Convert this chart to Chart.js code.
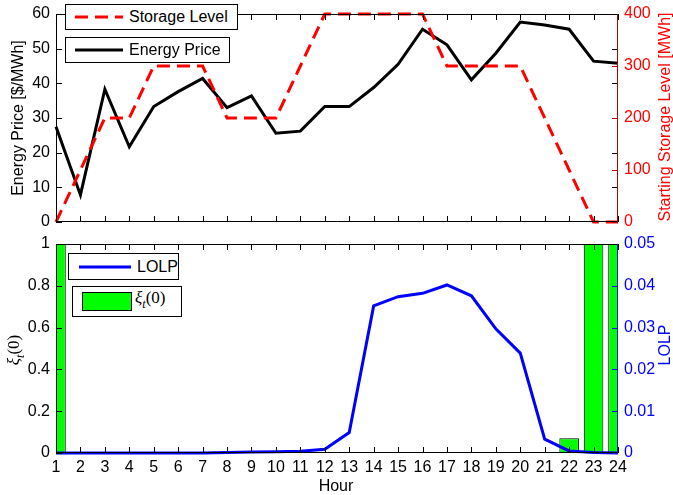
<!DOCTYPE html>
<html><head><meta charset="utf-8">
<script src="https://cdn.jsdelivr.net/npm/chart.js@4.4.1/dist/chart.umd.min.js"></script>
<style>
html,body{margin:0;padding:0;background:#fff;}
#wrap{position:relative;width:673px;height:495px;overflow:hidden;font-family:"Liberation Sans",Arial,sans-serif;color:#000;}
canvas{position:absolute;left:0;}
.rot{position:absolute;white-space:nowrap;font-size:16px;line-height:18px;transform:translate(-50%,-50%) rotate(-90deg);}
.hz{position:absolute;white-space:nowrap;font-size:16px;line-height:18px;transform:translate(-50%,-50%);}
.leg{position:absolute;border:1px solid #000;background:#fff;box-sizing:border-box;}
.leg .t{position:absolute;white-space:nowrap;font-size:16px;line-height:18px;transform:translateY(-50%);}
.leg svg{position:absolute;left:0;top:0;}
.xi{font-family:"Liberation Serif","DejaVu Serif",serif;}
</style></head><body>
<div id="wrap">
<canvas id="topc" width="673" height="232" style="top:0"></canvas>
<canvas id="botc" width="673" height="263" style="top:232px"></canvas>

<div class="rot" style="left:18px;top:118px;">Energy Price [$/MWh]</div>
<div class="rot" style="left:665px;top:117px;color:#ff0000;">Starting Storage Level [MWh]</div>
<div class="rot xi" style="left:17px;top:350px;font-size:17px;"><i>ξ</i><sub style="font-size:12px"><i>t</i></sub>(0)</div>
<div class="rot" style="left:665px;top:345px;color:#0000ff;">LOLP</div>
<div class="hz" style="left:336px;top:486px;">Hour</div>

<div class="leg" style="left:65px;top:4px;width:173px;height:26px;">
  <svg width="171" height="24"><line x1="9" y1="12" x2="57" y2="12" stroke="#ff0000" stroke-width="3" stroke-dasharray="13,7"/></svg>
  <div class="t" style="left:63px;top:12px;">Storage Level</div>
</div>
<div class="leg" style="left:65px;top:37px;width:165px;height:26px;">
  <svg width="163" height="24"><line x1="9" y1="12" x2="57" y2="12" stroke="#000" stroke-width="3"/></svg>
  <div class="t" style="left:63px;top:12px;">Energy Price</div>
</div>
<div class="leg" style="left:68px;top:253px;width:111px;height:27px;">
  <svg width="109" height="25"><line x1="10" y1="13" x2="62" y2="13" stroke="#0000ff" stroke-width="3"/></svg>
  <div class="t" style="left:68px;top:13px;">LOLP</div>
</div>
<div class="leg" style="left:72px;top:286px;width:110px;height:31px;">
  <svg width="108" height="29"><rect x="9.5" y="5.5" width="49" height="18" fill="#00ff00" stroke="#000" stroke-width="1"/></svg>
  <div class="t xi" style="left:62px;top:14px;font-size:17px;"><i>ξ</i><sub style="font-size:12px"><i>t</i></sub>(0)</div>
</div>
</div>

<script>
// ---- data ----
const hours = [1,2,3,4,5,6,7,8,9,10,11,12,13,14,15,16,17,18,19,20,21,22,23,24];
const energyPrice = [27.5,7.8,38.3,21.7,33.3,37.6,41.4,33.0,36.4,25.6,26.2,33.3,33.3,38.8,45.5,55.6,51.1,41.0,48.7,57.7,56.8,55.6,46.4,45.8];
const storageLevel = [0,100,200,200,300,300,300,200,200,200,300,400,400,400,400,400,300,300,300,300,200,100,0,0];
const xi0 = [1,0,0,0,0,0,0,0,0,0,0,0,0,0,0,0,0,0,0,0,0.004,0.07,1,1];
const lolp = [0,0,0,0,0,0,0,0.0001,0.00025,0.0003,0.0004,0.0009,0.0049,0.0352,0.0374,0.0382,0.0402,0.0376,0.0297,0.0239,0.0033,0.0005,0.0001,0];
const priceTicks = {min:0, max:60, step:10};
const storageTicks = {min:0, max:400, step:100};
const xiTicks = {min:0, max:1, step:0.2};
const lolpTicks = {min:0, max:0.05, step:0.01};

Chart.defaults.font.family = "'Liberation Sans', Arial, sans-serif";
Chart.defaults.font.size = 16;
Chart.defaults.color = '#000';

const TL = 6;
const framePlugin = {
  id: 'frame',
  afterDraw(chart, args, o) {
    const ctx = chart.ctx, a = chart.chartArea;
    const xs = chart.scales.x, yl = chart.scales.y, yr = chart.scales.y1;
    ctx.save();
    ctx.lineWidth = 1;
    ctx.strokeStyle = '#000';
    ctx.beginPath();
    hours.forEach(h => {
      const px = Math.round(xs.getPixelForValue(h)) + 0.5;
      ctx.moveTo(px, a.bottom); ctx.lineTo(px, a.bottom - TL);
      ctx.moveTo(px, a.top); ctx.lineTo(px, a.top + TL);
    });
    yl.ticks.forEach(t => {
      const py = Math.round(yl.getPixelForValue(t.value)) + 0.5;
      ctx.moveTo(a.left, py); ctx.lineTo(a.left + TL, py);
      ctx.moveTo(a.right, py); ctx.lineTo(a.right - TL, py);
    });
    ctx.stroke();
    ctx.strokeStyle = o.rightColor;
    ctx.beginPath();
    yr.ticks.forEach(t => {
      const py = Math.round(yr.getPixelForValue(t.value)) + 0.5;
      ctx.moveTo(a.right, py); ctx.lineTo(a.right - TL, py);
    });
    ctx.stroke();
    ctx.strokeStyle = '#000';
    ctx.beginPath();
    ctx.moveTo(a.right, a.top + 0.5); ctx.lineTo(a.left + 0.5, a.top + 0.5);
    ctx.lineTo(a.left + 0.5, a.bottom - 0.5); ctx.lineTo(a.right, a.bottom - 0.5);
    ctx.stroke();
    ctx.strokeStyle = o.rightColor;
    ctx.beginPath();
    ctx.moveTo(a.right - 0.5, a.top); ctx.lineTo(a.right - 0.5, a.bottom);
    ctx.stroke();
    ctx.restore();
  }
};

const fmt = v => String(+Number(v).toFixed(4));
function yAxis(pos, tk, color, width) {
  return {
    type: 'linear', position: pos, min: tk.min, max: tk.max,
    grid: {display: false, drawTicks: false}, border: {display: false},
    ticks: {stepSize: tk.step, color: color, padding: 6, callback: fmt, autoSkip: false},
    afterFit: s => { s.width = width; s.paddingTop = 0; s.paddingBottom = 0; }
  };
}

new Chart(document.getElementById('topc'), {
  data: {
    datasets: [
      {type: 'line', label: 'Storage Level', data: hours.map((h, i) => ({x: h, y: storageLevel[i]})),
       yAxisID: 'y1', borderColor: '#ff0000', borderWidth: 3, borderDash: [13, 7], pointRadius: 0, tension: 0, fill: false, order: 0, clip: 4},
      {type: 'line', label: 'Energy Price', data: hours.map((h, i) => ({x: h, y: energyPrice[i]})),
       yAxisID: 'y', borderColor: '#000000', borderWidth: 3, pointRadius: 0, tension: 0, fill: false, order: 1, clip: 4}
    ]
  },
  options: {
    responsive: false, maintainAspectRatio: false, animation: false, devicePixelRatio: 1,
    layout: {padding: {top: 14, bottom: 10, left: 0, right: 0}},
    plugins: {legend: {display: false}, tooltip: {enabled: false}, frame: {rightColor: '#b00000'}},
    scales: {
      x: {type: 'linear', min: 1, max: 24, display: false, offset: false},
      y: yAxis('left', priceTicks, '#000', 56),
      y1: yAxis('right', storageTicks, '#ff0000', 55)
    }
  },
  plugins: [framePlugin]
});

new Chart(document.getElementById('botc'), {
  data: {
    datasets: [
      {type: 'line', label: 'LOLP', data: hours.map((h, i) => ({x: h, y: lolp[i]})),
       yAxisID: 'y1', borderColor: '#0000ff', borderWidth: 3, pointRadius: 0, tension: 0, fill: false, order: 0, clip: 4},
      {type: 'bar', label: 'ξt(0)', data: hours.map((h, i) => ({x: h, y: xi0[i]})),
       yAxisID: 'y', backgroundColor: '#00ff00', borderColor: '#000', borderWidth: 1,
       barPercentage: 0.8, categoryPercentage: 1, clip: 0, order: 1}
    ]
  },
  options: {
    responsive: false, maintainAspectRatio: false, animation: false, devicePixelRatio: 1,
    layout: {padding: {top: 12, bottom: 0, left: 0, right: 0}},
    plugins: {legend: {display: false}, tooltip: {enabled: false}, frame: {rightColor: '#1010e0'}},
    scales: {
      x: {type: 'linear', min: 1, max: 24, position: 'bottom', offset: false,
          grid: {display: false, drawTicks: false, offset: false}, border: {display: false},
          ticks: {stepSize: 1, autoSkip: false, maxRotation: 0, padding: 5, color: '#000'},
          afterFit: s => { s.height = 42; s.paddingLeft = 0; s.paddingRight = 0; }},
      y: yAxis('left', xiTicks, '#000', 56),
      y1: yAxis('right', lolpTicks, '#0000ff', 55)
    }
  },
  plugins: [framePlugin]
});
</script>
</body></html>
